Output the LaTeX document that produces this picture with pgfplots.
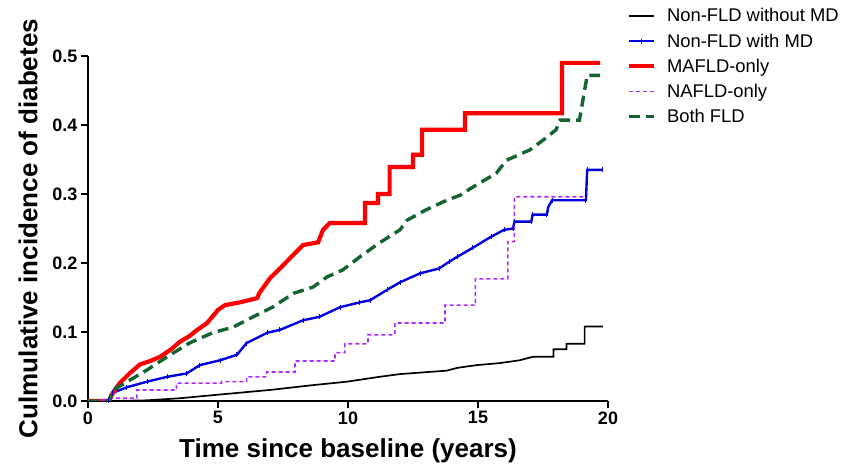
\documentclass[border=0pt]{standalone}
\usepackage{pgfplots}
\pgfplotsset{compat=1.18}
\usepackage{fontspec}
\setmainfont{Liberation Sans}
\definecolor{mdblue}{RGB}{0,0,225}
\definecolor{mafred}{RGB}{255,0,0}
\definecolor{nafpurple}{RGB}{175,40,255}
\definecolor{bothgreen}{RGB}{20,100,50}
\begin{document}
\begin{tikzpicture}
\begin{axis}[scale only axis, width=520pt, height=345pt,
  xmin=0, xmax=20, ymin=0, ymax=0.5,
  axis x line*=bottom, axis y line*=left,
  axis line style={-, line width=2.4pt},
  xtick={0,5,10,15,20}, ytick={0,0.1,0.2,0.3,0.4,0.5},
  tick align=outside, major tick length=7pt,
  every tick/.style={black, line width=2.4pt},
  minor tick num=0,
  /pgf/number format/assume math mode=true,
  ticklabel style={font=\bfseries\fontsize{18}{18}\selectfont},
  yticklabel style={/pgf/number format/.cd, fixed, fixed zerofill, precision=1},
  xlabel={Time since baseline (years)},
  ylabel={Culmulative incidence of diabetes},
  every axis x label/.style={at={(axis description cs:0.5,-0.145)},anchor=center,
    font=\bfseries\fontsize{26}{26}\selectfont},
  every axis y label/.style={at={(axis description cs:-0.115,0.5)},rotate=90,anchor=center,
    font=\bfseries\fontsize{26}{26}\selectfont},
  legend style={at={(1.03,1.15)}, anchor=north west, draw=none, fill=none,
    font=\fontsize{18.4}{18.4}\selectfont, row sep=6.4pt},
  legend cell align=left,
  legend image code/.code={\draw[mark repeat=2,mark phase=2,#1] plot coordinates {(0pt,0pt)(12.5pt,0pt)(25pt,0pt)};
    \path (34pt,0pt);},
]
% Non-FLD without MD
\addplot[black, line width=1.7pt, mark=none] coordinates {
(0,0)(1.0,0)(2.27,0.001)(3.54,0.004)(4.95,0.009)(7.0,0.016)(8.65,0.023)(9.96,0.028)
(11.2,0.035)(12.0,0.039)(13.8,0.044)(14.2,0.048)(14.95,0.052)(15.85,0.055)(16.6,0.059)
(17.1,0.064)(17.9,0.064)(17.9,0.075)(18.4,0.075)(18.4,0.083)(19.1,0.083)(19.1,0.108)(19.8,0.108)};
% Non-FLD with MD
\addplot[mdblue, line width=2.4pt, mark=|, mark size=2.5pt, mark options={line width=1pt}] coordinates {
(0,0)(0.8,0)(0.96,0.012)(1.5,0.02)(2.27,0.028)(3.04,0.035)(3.8,0.04)(4.3,0.052)(5.08,0.059)
(5.73,0.067)(6.1,0.084)(6.9,0.099)(7.38,0.103)(8.27,0.117)(8.9,0.122)(9.7,0.136)(10.46,0.143)
(10.85,0.146)(11.5,0.161)(12.0,0.172)(12.77,0.185)(13.5,0.192)(13.9,0.202)(14.2,0.209)
(14.8,0.222)(15.5,0.238)(16.0,0.248)(16.35,0.25)(16.4,0.26)(17.05,0.26)(17.1,0.27)(17.65,0.27)
(17.7,0.281)(17.85,0.291)(19.15,0.291)(19.2,0.335)(19.8,0.335)};
% MAFLD-only
\addplot[mafred, line width=4.2pt, mark=none] coordinates {
(0,0)(0.8,0)(0.96,0.012)(1.2,0.025)(1.6,0.04)(2.0,0.053)(2.4,0.058)(2.77,0.064)(3.2,0.075)
(3.54,0.086)(3.9,0.094)(4.2,0.103)(4.58,0.113)(5.0,0.132)(5.27,0.139)(5.85,0.143)(6.5,0.149)
(6.6,0.157)(7.0,0.178)(7.38,0.192)(7.77,0.207)(8.27,0.226)(8.85,0.23)(9.04,0.248)(9.3,0.258)
(10.65,0.258)(10.65,0.287)(11.15,0.287)(11.15,0.30)(11.6,0.30)(11.6,0.339)(12.5,0.339)
(12.5,0.357)(12.85,0.357)(12.85,0.393)(14.5,0.393)(14.5,0.417)(18.23,0.417)(18.23,0.49)(19.7,0.49)};
% NAFLD-only
\addplot[nafpurple, line width=1.6pt, dash pattern=on 4pt off 3pt, mark=none] coordinates {
(0,0)(0.46,0.001)(0.96,0.004)(1.88,0.004)(1.88,0.016)(3.4,0.016)(3.4,0.026)(5.14,0.026)
(5.14,0.028)(6.1,0.028)(6.1,0.035)(6.87,0.035)(6.87,0.042)(7.96,0.042)(7.96,0.058)(9.5,0.058)
(9.5,0.07)(9.88,0.07)(9.88,0.083)(10.77,0.083)(10.77,0.096)(11.8,0.096)(11.8,0.113)(13.73,0.113)
(13.73,0.139)(14.9,0.139)(14.9,0.177)(16.15,0.177)(16.15,0.231)(16.4,0.231)(16.4,0.296)(19.1,0.296)};
% Both FLD
\addplot[bothgreen, line width=3.4pt, dash pattern=on 11pt off 6pt, mark=none] coordinates {
(0,0)(0.8,0)(0.96,0.016)(1.6,0.03)(2.27,0.045)(3.04,0.064)(3.9,0.084)(4.8,0.099)(5.58,0.107)
(6.35,0.122)(7.1,0.136)(7.9,0.156)(8.65,0.165)(9.2,0.18)(9.8,0.19)(10.46,0.209)(11.2,0.229)
(12.0,0.248)(12.27,0.262)(13.0,0.277)(13.8,0.291)(14.3,0.298)(14.8,0.31)(15.7,0.33)(16.1,0.349)
(17.0,0.364)(17.5,0.378)(18.0,0.393)(18.15,0.407)(18.9,0.407)(19.2,0.472)(19.7,0.472)};
\legend{Non-FLD without MD, Non-FLD with MD, MAFLD-only, NAFLD-only, Both FLD}
\end{axis}
\pgfresetboundingbox
\path[use as bounding box] (-88pt,-69pt) rectangle (762pt,401pt);
\end{tikzpicture}
\end{document}
